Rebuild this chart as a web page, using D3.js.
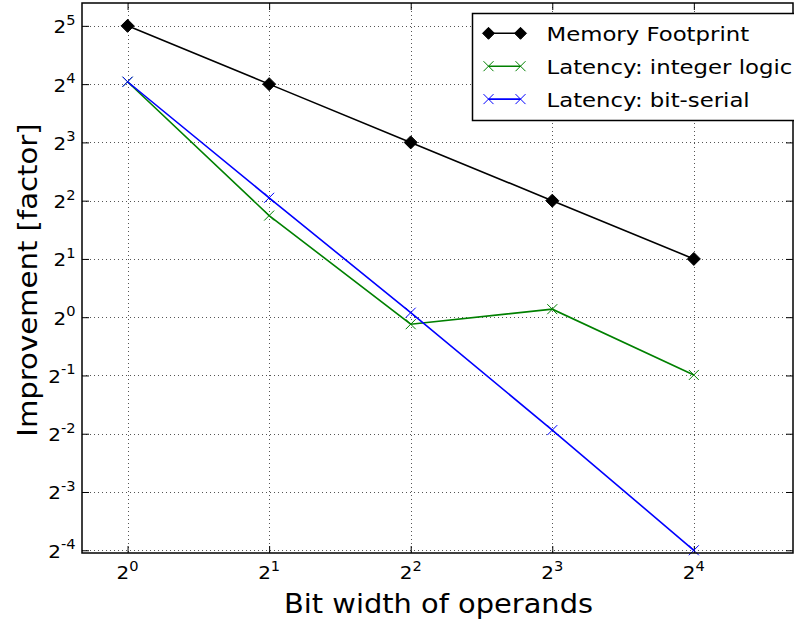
<!DOCTYPE html>
<html>
<head>
<meta charset="utf-8">
<script src="https://cdn.jsdelivr.net/npm/d3@7/dist/d3.min.js"></script>
<style>
  html, body { margin: 0; padding: 0; background: #fff; }
  svg { display: block; }
  text { font-family: "DejaVu Sans", sans-serif; fill: #000; }
</style>
</head>
<body>
<svg id="chart" width="794" height="623"></svg>
<script>
// Bit widths of the operands (x) and the improvement factors (y)
const bitWidths = [1, 2, 4, 8, 16];
const memoryFootprint = [32, 16, 8, 4, 2];
const latencyIntegerLogic = [16.46, 3.35, 0.92, 1.10, 0.503];
const latencyBitSerial = [16.46, 4.14, 1.055, 0.261, 0.0625];

const xTickExponents = [0, 1, 2, 3, 4];
const yTickExponents = [-4, -3, -2, -1, 0, 1, 2, 3, 4, 5];

const seriesNames = ["Memory Footprint", "Latency: integer logic", "Latency: bit-serial"];
const seriesColors = ["#000000", "#008000", "#0000ff"];
const xLabel = "Bit width of operands";
const yLabel = "Improvement [factor]";

const W = 794, H = 623;
const plot = { left: 82, right: 793, top: 3, bottom: 553 };
const stretch = 1.09; // glyphs are drawn slightly wide

const svg = d3.select("#chart");
svg.append("rect").attr("width", W).attr("height", H).attr("fill", "#fff");

const x = d3.scaleLog().base(2).domain([0.8, 26]).range([plot.left, plot.right]);
const y = d3.scaleLog().base(2).domain([0.0605, 42]).range([plot.bottom, plot.top]);

const xTicks = xTickExponents.map(e => Math.pow(2, e));
const yTicks = yTickExponents.map(e => Math.pow(2, e));

// Dotted grid
const grid = svg.append("g").attr("stroke", "#555").attr("stroke-width", 1)
  .attr("stroke-dasharray", "1,3").attr("fill", "none");
grid.selectAll("line.gx").data(xTicks).join("line")
  .attr("x1", d => Math.round(x(d)) + 0.5).attr("x2", d => Math.round(x(d)) + 0.5)
  .attr("y1", plot.top).attr("y2", plot.bottom);
grid.selectAll("line.gy").data(yTicks).join("line")
  .attr("x1", plot.left).attr("x2", plot.right)
  .attr("y1", d => Math.round(y(d)) + 0.5).attr("y2", d => Math.round(y(d)) + 0.5);

// Inward ticks on all four sides, drawn with d3 axes
const tickLen = 7;
const axisStyle = g => {
  g.select(".domain").remove();
  g.selectAll("text").remove();
  g.selectAll(".tick line").attr("stroke", "#000").attr("stroke-width", 1);
};
svg.append("g").attr("transform", `translate(0,${plot.bottom})`)
  .call(d3.axisBottom(x).tickValues(xTicks).tickSizeInner(-tickLen).tickSizeOuter(0)).call(axisStyle);
svg.append("g").attr("transform", `translate(0,${plot.top})`)
  .call(d3.axisTop(x).tickValues(xTicks).tickSizeInner(-tickLen).tickSizeOuter(0)).call(axisStyle);
svg.append("g").attr("transform", `translate(${plot.left},0)`)
  .call(d3.axisLeft(y).tickValues(yTicks).tickSizeInner(-tickLen).tickSizeOuter(0)).call(axisStyle);
svg.append("g").attr("transform", `translate(${plot.right},0)`)
  .call(d3.axisRight(y).tickValues(yTicks).tickSizeInner(-tickLen).tickSizeOuter(0)).call(axisStyle);

// Power-of-two tick labels
function powerLabel(g, exp, px, py, anchor) {
  const t = g.append("text")
    .attr("transform", `translate(${px},${py}) scale(${stretch},1)`)
    .attr("text-anchor", anchor)
    .attr("font-size", 18.3);
  t.append("tspan").text("2");
  t.append("tspan").attr("dy", -8.5).attr("font-size", 13.4).text(String(exp));
}
const labels = svg.append("g");
xTickExponents.forEach((e, i) => powerLabel(labels, e, x(xTicks[i]), 579.3, "middle"));
yTickExponents.forEach((e, i) => powerLabel(labels, e, 75.5, y(yTicks[i]) + 7.5, "end"));

// Axis titles
svg.append("text")
  .attr("transform", `translate(${(plot.left + plot.right) / 2 + 1},613.3) scale(${stretch},1)`)
  .attr("text-anchor", "middle").attr("font-size", 26.5).text(xLabel);
svg.append("text")
  .attr("transform", `translate(37,${(plot.top + plot.bottom) / 2 + 2}) rotate(-90) scale(1.1,1)`)
  .attr("text-anchor", "middle").attr("font-size", 26.5).text(yLabel);

// Series lines and markers
const line = d3.line().x(d => x(d[0])).y(d => y(d[1]));
const seriesData = [memoryFootprint, latencyIntegerLogic, latencyBitSerial]
  .map(vals => vals.map((v, i) => [bitWidths[i], v]));

svg.append("clipPath").attr("id", "plotclip").append("rect")
  .attr("x", plot.left).attr("y", plot.top - 8)
  .attr("width", plot.right - plot.left).attr("height", plot.bottom - plot.top + 16);

const diamond = (g, cx, cy, r, color) => g.append("path")
  .attr("d", `M${cx},${cy - r}L${cx + r},${cy}L${cx},${cy + r}L${cx - r},${cy}Z`)
  .attr("fill", color).attr("stroke", color).attr("stroke-width", 1);
const cross = (g, cx, cy, r, color) => g.append("path")
  .attr("d", `M${cx - r},${cy - r}L${cx + r},${cy + r}M${cx - r},${cy + r}L${cx + r},${cy - r}`)
  .attr("stroke", color).attr("stroke-width", 1).attr("fill", "none");

const marks = svg.append("g").attr("clip-path", "url(#plotclip)");
seriesData.forEach((pts, s) => {
  marks.append("path").datum(pts).attr("d", line)
    .attr("fill", "none").attr("stroke", seriesColors[s]).attr("stroke-width", 1.6);
  pts.forEach(p => {
    if (s === 0) diamond(marks, x(p[0]), y(p[1]), 6.5, seriesColors[s]);
    else cross(marks, x(p[0]), y(p[1]), 5, seriesColors[s]);
  });
});

// Frame
svg.append("rect")
  .attr("x", plot.left).attr("y", plot.top)
  .attr("width", plot.right - plot.left).attr("height", plot.bottom - plot.top)
  .attr("fill", "none").attr("stroke", "#000").attr("stroke-width", 1.5);

// Legend
const legend = svg.append("g");
legend.append("rect").attr("x", 472.5).attr("y", 13.5).attr("width", 340).attr("height", 107)
  .attr("fill", "#fff").attr("stroke", "#000").attr("stroke-width", 1.5);
seriesNames.forEach((name, s) => {
  const cy = 33.3 + s * 32.9;
  legend.append("line").attr("x1", 488.5).attr("x2", 520.5).attr("y1", cy).attr("y2", cy)
    .attr("stroke", seriesColors[s]).attr("stroke-width", 1.6);
  [488.5, 520.5].forEach(cx => {
    if (s === 0) diamond(legend, cx, cy, 6, seriesColors[s]);
    else cross(legend, cx, cy, 5, seriesColors[s]);
  });
  legend.append("text")
    .attr("transform", `translate(546.5,${cy + 7.4}) scale(1.14,1)`)
    .attr("font-size", 20).text(name);
});
</script>
</body>
</html>
